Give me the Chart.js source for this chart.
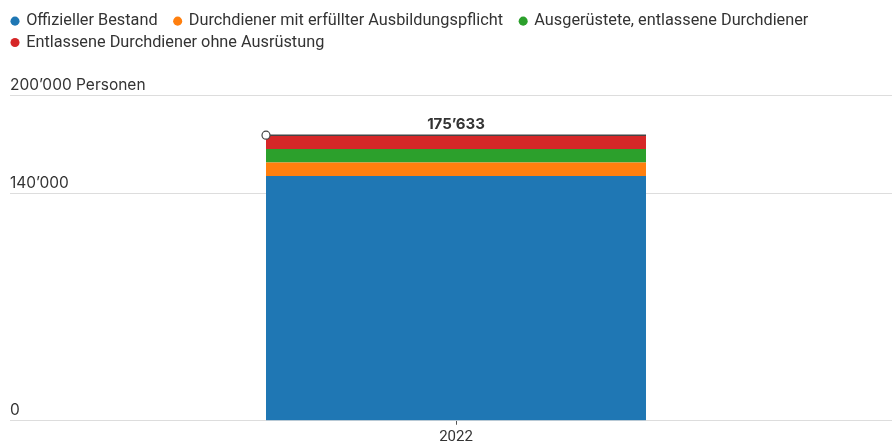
<!DOCTYPE html>
<html lang="de">
<head>
  <meta charset="utf-8"/>
  <title>Bestand</title>
  <script src="https://cdn.jsdelivr.net/npm/chart.js"></script>
  <style>
    html, body { margin: 0; padding: 0; background: #fff; overflow: hidden; }
    #chart { width: 902px; height: 449px; }
  </style>
</head>
<body>
  <div id="chart">
    <canvas id="my_chart"></canvas>
  </div>

<script>
var years = ['2022'];
var seriesLabels = [
  'Offizieller Bestand',
  'Durchdiener mit erfüllter Ausbildungspflicht',
  'Ausgerüstete, entlassene Durchdiener',
  'Entlassene Durchdiener ohne Ausrüstung'
];
var offiziellerBestand = [150600];
var durchdienerErfuellt = [8200];
var durchdienerAusgeruestet = [8300];
var durchdienerOhne = [8533];
var yTicks = [0, 140000, 200000];
var yUnit = 'Personen';

const COLORS = ['#1f77b4', '#ff7f0e', '#2ca02c', '#d62728'];
const TEXT = '#333333';
const GRID = '#dddddd';

function fmt (v) {
  return String(v).replace(/\B(?=(\d{3})+(?!\d))/g, '\u2019');
}

function makeDatasets () {
  var values = [offiziellerBestand, durchdienerErfuellt, durchdienerAusgeruestet, durchdienerOhne];
  return values.map((data, i) => ({
    label: seriesLabels[i],
    data: data,
    backgroundColor: COLORS[i],
    borderWidth: 0,
    categoryPercentage: 0.426,
    barPercentage: 1
  }));
}

// total line, marker and label on top of the stack
const totalPlugin = {
  id: 'total',
  afterDatasetsDraw (chart) {
    const ctx = chart.ctx;
    const y = chart.scales.y;
    const last = chart.getDatasetMeta(chart.data.datasets.length - 1);
    last.data.forEach((bar, i) => {
      var total = 0;
      chart.data.datasets.forEach(ds => { total += ds.data[i]; });
      const top = y.getPixelForValue(total);
      const left = bar.x - bar.width / 2;
      const right = bar.x + bar.width / 2;
      ctx.save();
      ctx.strokeStyle = '#444';
      ctx.lineWidth = 1.5;
      ctx.beginPath();
      ctx.moveTo(left, top);
      ctx.lineTo(right, top);
      ctx.stroke();
      ctx.beginPath();
      ctx.arc(left, top, 4, 0, Math.PI * 2);
      ctx.fillStyle = '#fff';
      ctx.fill();
      ctx.lineWidth = 1.2;
      ctx.strokeStyle = '#444';
      ctx.stroke();
      ctx.fillStyle = TEXT;
      ctx.font = 'bold 15px Inter';
      ctx.textAlign = 'center';
      ctx.textBaseline = 'bottom';
      ctx.fillText(fmt(total), bar.x, top - 3);
      ctx.restore();
    });
  }
};

// extra room between legend and plot, legend nudged left
const legendGap = {
  id: 'legendGap',
  beforeInit (chart) {
    const fit = chart.legend.fit;
    chart.legend.fit = function () {
      fit.bind(chart.legend)();
      this.height += 35;
    };
  },
  afterLayout (chart) {
    chart.legend.left -= 3;
    chart.legend.adjustHitBoxes();
  }
};

window.onload = function () {
  const config = {
    type: 'bar',
    data: {
      labels: years,
      datasets: makeDatasets()
    },
    plugins: [totalPlugin, legendGap],
    options: {
      responsive: false,
      animation: false,
      layout: {
        padding: { left: 10, right: 0, top: 8, bottom: 0 }
      },
      plugins: {
        legend: {
          position: 'top',
          align: 'start',
          labels: {
            usePointStyle: true,
            pointStyle: 'circle',
            boxWidth: 6,
            boxHeight: 6.4,
            padding: 5,
            color: TEXT,
            font: { family: 'Roboto', size: 16.3 },
            generateLabels: (chart) => {
              const items = Chart.defaults.plugins.legend.labels.generateLabels(chart);
              items.forEach(it => { it.text = it.text + '   '; });
              return items;
            }
          }
        },
        tooltip: { enabled: false }
      },
      scales: {
        x: {
          stacked: true,
          grid: {
            offset: false,
            drawOnChartArea: false,
            drawTicks: true,
            tickLength: 4,
            color: '#555'
          },
          border: { display: true, color: GRID, width: 1 },
          ticks: {
            color: TEXT,
            padding: 5,
            font: { family: 'Roboto', size: 15, lineHeight: 0.95 }
          }
        },
        y: {
          stacked: true,
          min: 0,
          max: 200000,
          afterBuildTicks: (axis) => {
            axis.ticks = yTicks.map(v => ({ value: v }));
          },
          grid: {
            color: GRID,
            drawTicks: false
          },
          border: { display: false },
          ticks: {
            mirror: true,
            padding: 0,
            labelOffset: -10,
            color: TEXT,
            font: { family: 'Inter', size: 15.5 },
            callback: (v) => v === yTicks[yTicks.length - 1] ? fmt(v) + ' ' + yUnit : fmt(v)
          }
        }
      }
    }
  };

  const canvas = document.getElementById('my_chart');
  canvas.width = 902;
  canvas.height = 449;
  new Chart(canvas.getContext('2d'), config);
};
</script>
</body>
</html>
